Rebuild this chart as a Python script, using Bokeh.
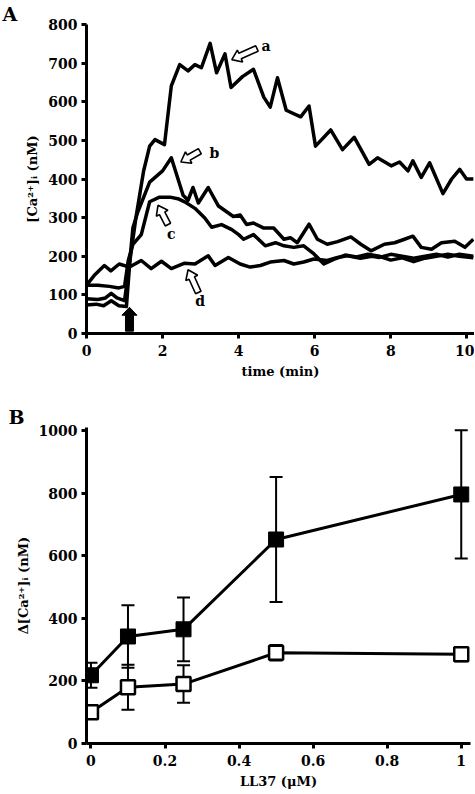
import math
from bokeh.plotting import figure
from bokeh.models import Range1d, FixedTicker, Title, Whisker, TeeHead, ColumnDataSource
from bokeh.layouts import column
from bokeh.embed import file_html
from bokeh.resources import INLINE
from bokeh.core.properties import value

FONT = "DejaVu Serif"

# ---------------- Panel A data: [Ca2+]i (nM) vs time (min) ----------------
a_t = [0, 0.3, 0.5, 0.65, 0.8, 1.0, 1.1, 1.3, 1.5, 1.66, 1.8, 2.05, 2.23, 2.45, 2.67,
       2.85, 3.02, 3.25, 3.42, 3.64, 3.8, 4.1, 4.39, 4.66, 4.83, 5.02, 5.25, 5.63, 5.85, 6.02,
       6.42, 6.73, 7.04, 7.43, 7.65, 8.01, 8.23, 8.45, 8.58, 8.8, 9.02, 9.37, 9.6, 9.81, 9.99, 10.17]
a_v = [90, 88, 92, 104, 92, 85, 160, 300, 420, 485, 502, 489, 641, 696, 680,
       696, 688, 751, 675, 724, 637, 665, 684, 612, 586, 662, 578, 561, 589, 485,
       527, 476, 508, 438, 455, 434, 444, 421, 447, 404, 442, 362, 400, 425, 400, 400]

b_t = [0, 0.25, 0.45, 0.65, 0.85, 1.05, 1.15, 1.22, 1.35, 1.66, 2.0, 2.23, 2.54, 2.67, 2.8,
       2.94, 3.2, 3.47, 3.86, 4.04, 4.21, 4.39, 4.66, 4.92, 5.19, 5.36, 5.54, 5.85, 6.07, 6.33,
       6.6, 6.95, 7.21, 7.48, 7.83, 8.1, 8.36, 8.58, 8.8, 9.07, 9.33, 9.68, 9.95, 10.17]
b_v = [74, 76, 72, 85, 72, 70, 200, 274, 315, 392, 421, 455, 358, 345, 378,
       338, 378, 330, 303, 307, 282, 286, 273, 273, 244, 248, 235, 283, 244, 231,
       238, 250, 231, 214, 231, 235, 244, 252, 223, 218, 235, 239, 223, 244]

c_t = [0, 0.3, 0.6, 0.85, 1.0, 1.1, 1.22, 1.44, 1.66, 1.92, 2.19, 2.4, 2.58, 2.85, 3.11,
       3.29, 3.55, 3.82, 4.0, 4.13, 4.39, 4.7, 4.97, 5.19, 5.45, 5.71, 5.98, 6.24, 6.5, 6.8,
       7.1, 7.4, 7.7, 8.0, 8.3, 8.6, 8.9, 9.2, 9.5, 9.8, 10.17]
c_v = [125, 125, 122, 118, 122, 190, 231, 256, 341, 353, 353, 349, 341, 324, 299,
       275, 282, 269, 256, 244, 256, 227, 235, 227, 223, 227, 206, 180, 192, 203,
       198, 205, 200, 190, 196, 186, 195, 200, 205, 200, 196]

d_t = [0, 0.2, 0.47, 0.64, 0.86, 1.13, 1.44, 1.7, 1.97, 2.23, 2.58, 2.85, 3.2, 3.38, 3.73,
       4.04, 4.3, 4.57, 4.83, 5.19, 5.45, 5.71, 5.98, 6.33, 6.6, 6.86, 7.2, 7.5, 7.7, 8.0,
       8.3, 8.6, 8.9, 9.2, 9.5, 9.8, 10.17]
d_v = [125, 150, 176, 162, 180, 172, 189, 168, 187, 168, 182, 180, 201, 176, 197,
       180, 172, 176, 185, 189, 180, 185, 193, 189, 197, 201, 195, 200, 197, 205,
       200, 195, 200, 205, 198, 205, 200]

a_xticks = [0, 2, 4, 6, 8, 10]
a_yticks = [0, 100, 200, 300, 400, 500, 600, 700, 800]

# curve annotations (hollow arrows + letters)
ann_letters = ["a", "b", "c", "d"]
ann_head_t = [3.82, 2.48, 1.88, 2.67]
ann_head_v = [709, 444, 332, 165]
ann_tail_t = [4.48, 2.98, 2.14, 2.94]
ann_tail_v = [738, 472, 282, 106]
ann_text_t = [4.72, 3.36, 2.23, 2.99]
ann_text_v = [745, 468, 258, 84]
stim_t = 1.13  # stimulus (filled arrow)

# ---------------- Panel B data: delta [Ca2+]i vs LL37 ----------------
ll37 = [0, 0.1, 0.25, 0.5, 1]
filled_mean = [218, 342, 365, 652, 796]
filled_err = [40, 100, 102, 200, 205]
open_mean = [100, 180, 190, 290, 285]
open_err = [20, 72, 60, 25, 22]
b_xticks = [0, 0.2, 0.4, 0.6, 0.8, 1]
b_xlabels = ["0", "0.2", "0.4", "0.6", "0.8", "1"]
b_yticks = [0, 200, 400, 600, 800, 1000]


def style(p):
    p.outline_line_color = None
    p.xgrid.visible = False
    p.ygrid.visible = False
    p.background_fill_color = "white"
    p.border_fill_color = "white"
    for ax in (p.xaxis[0], p.yaxis[0]):
        ax.axis_line_width = 3
        ax.axis_line_color = "black"
        ax.major_tick_line_width = 3
        ax.major_tick_line_color = "black"
        ax.major_tick_in = 0
        ax.major_tick_out = 5
        ax.minor_tick_line_color = None
        ax.major_label_text_font = FONT
        ax.major_label_text_font_style = "bold"
        ax.major_label_text_font_size = "14px"
        ax.major_label_text_color = "black"
        ax.axis_label_text_font = FONT
        ax.axis_label_text_font_style = "bold"
        ax.axis_label_text_font_size = "13px"
        ax.axis_label_text_color = "black"


def panel_title(letter, offset):
    return Title(text=letter, align="left", offset=offset, standoff=0,
                 text_font=FONT, text_font_style="bold", text_font_size="19px",
                 text_color="black")


def block_arrow(ht, hv, tt, tv, kx, ky, bw, hw, hl):
    hx, hy = ht * kx, hv * ky
    tx, ty = tt * kx, tv * ky
    L = math.hypot(hx - tx, hy - ty)
    ux, uy = (hx - tx) / L, (hy - ty) / L
    nx, ny = -uy, ux
    bx, by = hx - ux * hl, hy - uy * hl
    pts = [(tx + nx * bw, ty + ny * bw), (bx + nx * bw, by + ny * bw),
           (bx + nx * hw, by + ny * hw), (hx, hy),
           (bx - nx * hw, by - ny * hw), (bx - nx * bw, by - ny * bw),
           (tx - nx * bw, ty - ny * bw)]
    return [q[0] / kx for q in pts], [q[1] / ky for q in pts]


LEFT = 86

# ---------------- Figure A ----------------
FWA, FHA = 388, 309
xA = Range1d(0, 10.2)
yA = Range1d(0, 800)
pA = figure(frame_width=FWA, frame_height=FHA, x_range=xA, y_range=yA,
            min_border_left=LEFT, min_border_right=0, min_border_top=0, min_border_bottom=54,
            output_backend="svg", toolbar_location=None)
pA.title = panel_title("A", 2 - LEFT)
style(pA)
pA.xaxis.ticker = FixedTicker(ticks=a_xticks)
pA.yaxis.ticker = FixedTicker(ticks=a_yticks)
pA.xaxis.axis_label = "time (min)"
pA.yaxis.axis_label = "[Ca\u00b2\u207a]\u1d62 (nM)"
pA.xaxis.major_label_standoff = 6
pA.yaxis.major_label_standoff = 4

for tt, vv in ((a_t, a_v), (b_t, b_v), (c_t, c_v), (d_t, d_v)):
    pA.line(tt, vv, line_width=3.5, line_color="black", line_join="round")

kxA = FWA / (xA.end - xA.start)
kyA = FHA / (yA.end - yA.start)
xs, ys = [], []
for i in range(len(ann_letters)):
    px, py = block_arrow(ann_head_t[i], ann_head_v[i], ann_tail_t[i], ann_tail_v[i],
                         kxA, kyA, 3.0, 6.5, 9.0)
    xs.append(px)
    ys.append(py)
pA.patches(xs, ys, fill_color="white", line_color="black", line_width=1.6)
pA.text(ann_text_t, ann_text_v, text=ann_letters, text_font=value(FONT),
        text_font_style="bold", text_font_size="14px", text_align="center",
        text_baseline="middle", text_color="black")

sx, sy = block_arrow(stim_t, 68, stim_t, 6, kxA, kyA, 4.0, 7.5, 8.0)
pA.patch(sx, sy, fill_color="black", line_color="black", line_width=1)

# ---------------- Figure B ----------------
FWB, FHB = 384, 316
xB = Range1d(-0.012, 1.025)
yB = Range1d(0, 1010)
pB = figure(frame_width=FWB, frame_height=FHB, x_range=xB, y_range=yB,
            min_border_left=LEFT, min_border_right=4, min_border_top=40, min_border_bottom=51,
            output_backend="svg", toolbar_location=None)
pB.title = panel_title("B", 8 - LEFT)
style(pB)
pB.xaxis.ticker = FixedTicker(ticks=b_xticks)
pB.xaxis.major_label_overrides = {t: s for t, s in zip(b_xticks, b_xlabels)}
pB.yaxis.ticker = FixedTicker(ticks=b_yticks)
pB.xaxis.axis_label = "LL37 (\u03bcM)"
pB.yaxis.axis_label = "\u0394[Ca\u00b2\u207a]\u1d62 (nM)"
pB.xaxis.major_label_standoff = 6
pB.yaxis.major_label_standoff = 4

for mean, err in ((filled_mean, filled_err), (open_mean, open_err)):
    src = ColumnDataSource(dict(x=ll37, up=[m + e for m, e in zip(mean, err)],
                                lo=[m - e for m, e in zip(mean, err)]))
    w = Whisker(base="x", upper="up", lower="lo", source=src, line_width=2, line_color="black",
                upper_head=TeeHead(size=13, line_width=2, line_color="black"),
                lower_head=TeeHead(size=13, line_width=2, line_color="black"),
                level="underlay")
    pB.add_layout(w)

pB.line(ll37, filled_mean, line_width=3, line_color="black")
pB.line(ll37, open_mean, line_width=3, line_color="black")
pB.scatter(ll37, filled_mean, marker="square", size=15, fill_color="black", line_color="black")
pB.scatter(ll37, open_mean, marker="square", size=14, fill_color="white", line_color="black",
           line_width=2.5)

p = column(pA, pB, spacing=0)
open("out.html", "w").write(file_html(p, INLINE))
